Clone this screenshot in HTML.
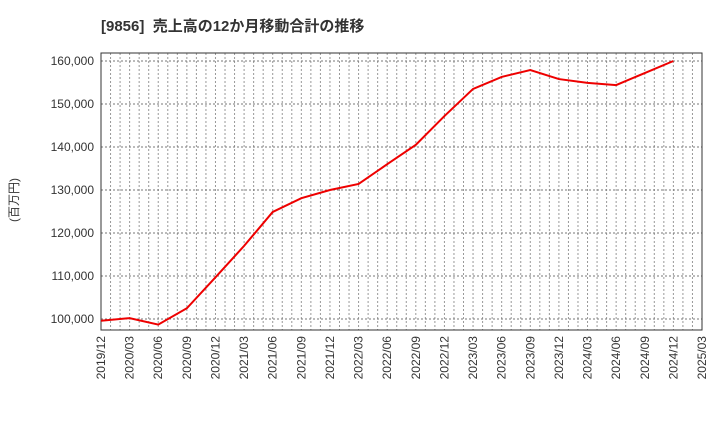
<!DOCTYPE html>
<html><head><meta charset="utf-8"><style>
body{margin:0;background:#fff;}
svg{display:block;font-family:"Liberation Sans","Noto Sans CJK JP",sans-serif;}
</style></head><body>
<svg id="c" width="720" height="440">
<text x="101" y="31" font-size="15" font-weight="bold" fill="#333">[9856]&#160;&#160;売上高の12か月移動合計の推移</text>
<text transform="translate(18,200) rotate(-90)" font-size="12" fill="#333" text-anchor="middle">(百万円)</text>
</svg>
<script>
const categories=["2019/12","2020/03","2020/06","2020/09","2020/12","2021/03","2021/06","2021/09","2021/12","2022/03","2022/06","2022/09","2022/12","2023/03","2023/06","2023/09","2023/12","2024/03","2024/06","2024/09","2024/12"];
const values=[99600,100200,98700,102500,109700,117000,124900,128100,130000,131400,136000,140500,147200,153500,156300,157900,155800,154900,154400,157200,160000];
const xTickLabels=["2019/12","2020/03","2020/06","2020/09","2020/12","2021/03","2021/06","2021/09","2021/12","2022/03","2022/06","2022/09","2022/12","2023/03","2023/06","2023/09","2023/12","2024/03","2024/06","2024/09","2024/12","2025/03"];
const yTicks=[100000,110000,120000,130000,140000,150000,160000];
const L=101,R=702,T=53,B=330,yMin=97440,yMax=161860;
const svg=document.getElementById('c');const NS='http://www.w3.org/2000/svg';
const nQ=xTickLabels.length-1;
const xq=i=>L+(R-L)*i/nQ;
const y=v=>B-(v-yMin)/(yMax-yMin)*(B-T);
function mk(t,a){const e=document.createElementNS(NS,t);for(const k in a)e.setAttribute(k,a[k]);svg.appendChild(e);return e;}
for(let m=1;m<nQ*3;m++){const x=L+(R-L)*m/(nQ*3);
const g=mk('line',{x1:x,x2:x,y1:T,y2:B,stroke:'#999','stroke-dasharray':'2,2','stroke-width':1});

}
yTicks.forEach(v=>{const g=mk('line',{x1:L,x2:R,y1:y(v),y2:y(v),stroke:'#777','stroke-dasharray':'2,2','stroke-width':1});


const t=mk('text',{x:L-7,y:y(v)+4,'font-size':12,'text-anchor':'end',fill:'#333'});t.textContent=v.toLocaleString('en-US');

});
xTickLabels.forEach((s,i)=>{const x=xq(i);const t=mk('text',{transform:`translate(${x+4},${B+6}) rotate(-90)`,'font-size':12,'text-anchor':'end',fill:'#333'});t.textContent=s;

});
const f=mk('rect',{x:L,y:T,width:R-L,height:B-T,fill:'none',stroke:'#333','stroke-width':1});


const p=mk('polyline',{points:values.map((v,i)=>xq(i)+','+y(v)).join(' '),fill:'none',stroke:'#e00','stroke-width':2});


</script>
</body></html>
